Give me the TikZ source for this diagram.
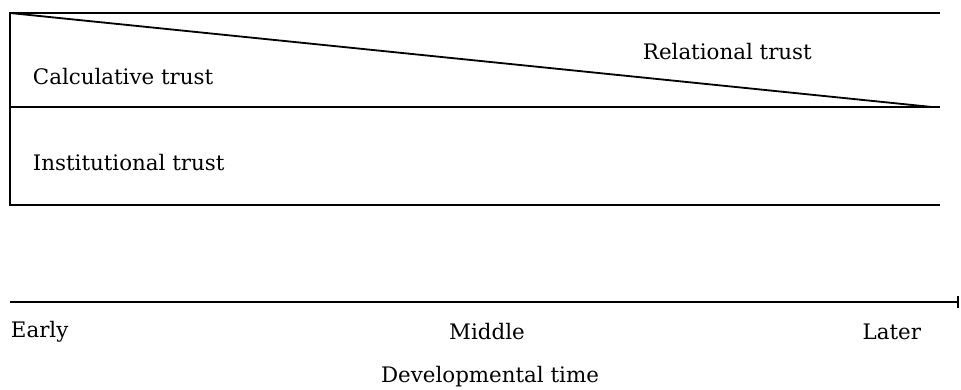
\documentclass[tikz,border=0pt]{standalone}
\usepackage{fontspec}
\setmainfont{DejaVu Serif}
\usetikzlibrary{arrows.meta}
\begin{document}
\begin{tikzpicture}[x=0.025cm, y=-0.025cm, line width=1.3pt,
    lbl/.style={font=\fontsize{15.2}{18}\selectfont, inner sep=0pt}]
      \useasboundingbox (0,0) rectangle (961,389);
      \coordinate (tl) at (10,13);
      \coordinate (tr) at (940,13);
      \coordinate (ml) at (10,107);
      \coordinate (mr) at (940,107);
      \coordinate (meet) at (932,107);
      \coordinate (bl) at (10,205);
      \coordinate (br) at (940,205);
      \coordinate (early) at (10,302);
      \coordinate (later) at (959,302);

      \draw (tr) -- (tl) -- (bl) -- (br);
      \draw (ml) -- (mr);
      \draw (tl) -- (meet);
      \draw[-{Bar[width=8pt]}] (early) -- (later);

      \node[lbl, anchor=west] (calc) at (32,77) {Calculative trust};
      \node[lbl, anchor=west] (rel) at (642,52) {Relational trust};
      \node[lbl, anchor=west] (inst) at (32,163) {Institutional trust};
      \foreach \name/\pos/\anch/\txt in {
        e/{(10,332)}/west/Early, m/{(487,332)}/center/Middle,
        l/{(922,332)}/east/Later, t/{(490,377)}/center/Developmental time}
        \node[lbl, anchor=\anch] (\name) at \pos {\txt};
\end{tikzpicture}
\end{document}
